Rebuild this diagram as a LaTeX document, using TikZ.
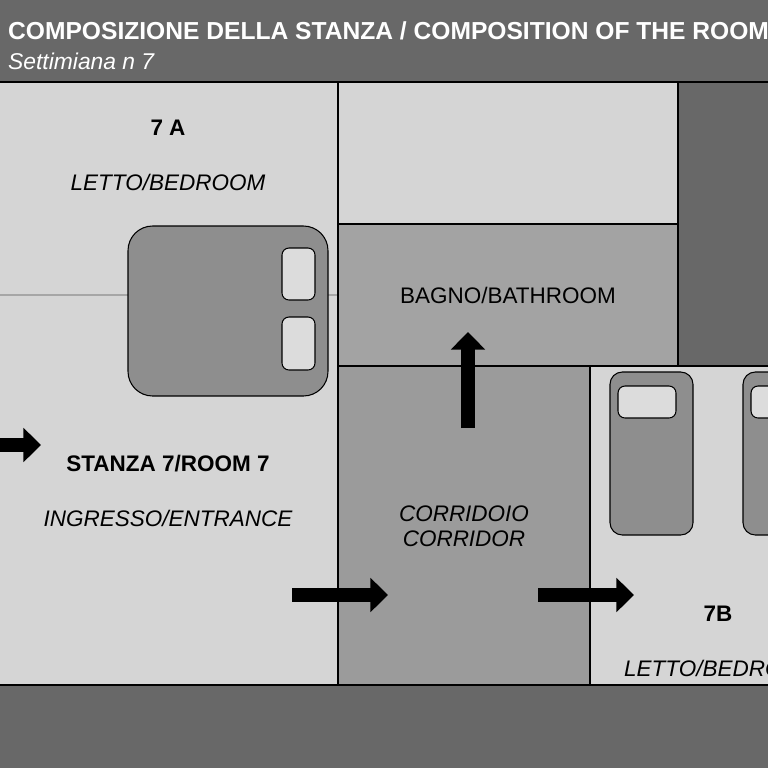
\documentclass[tikz,border=0pt]{standalone}
\usepackage{fontspec}
\setmainfont{Liberation Sans}
\usetikzlibrary{arrows.meta}
\definecolor{darkband}{HTML}{686868}
\definecolor{lightroom}{HTML}{D5D5D5}
\definecolor{midroom}{HTML}{A3A3A3}
\definecolor{bedfill}{HTML}{8E8E8E}
\definecolor{pillowfill}{HTML}{DCDCDC}
\begin{document}
\begin{tikzpicture}
[x=0.02cm,y=-0.02cm,
  roomDecorate/.style={draw=black,line width=0.6pt},%
  bedDecorate/.style={draw=black,fill=bedfill,rounded corners=14pt,line width=0.6pt},%
  pillowDecorate/.style={draw=black,fill=pillowfill,rounded corners=4pt,line width=0.6pt},%
  arrowDecorate/.style={line width=8.5pt,-{Triangle[width=19pt,length=10pt]}},%
  labelDecorate/.style={font=\fontsize{12.8}{14.5}\selectfont\itshape},%
  titleDecorate/.style={font=\fontsize{12.8}{14.5}\selectfont\bfseries}]
\useasboundingbox (0,0) rectangle (768,768);
\clip (0,0) rectangle (768,768);
%% bands
\fill[darkband] (0,0) rectangle (768,82);
\fill[darkband] (0,685) rectangle (768,768);
\node[anchor=west,text=white,font=\fontsize{14}{16}\selectfont\bfseries] (head) at (2,31)
  {COMPOSIZIONE DELLA STANZA / COMPOSITION OF THE ROOM};
\node[anchor=west,text=white,font=\fontsize{13}{15}\selectfont\itshape] (sub) at (2,61) {Settimiana n 7};
%% rooms
\filldraw[roomDecorate,fill=lightroom] (-5,82) rectangle (338,685);
\draw[gray!70,line width=0.6pt] (0,295) -- (338,295);
\filldraw[roomDecorate,fill=lightroom] (338,82) rectangle (678,224);
\filldraw[roomDecorate,fill=midroom] (338,224) rectangle (678,366);
\filldraw[roomDecorate,fill=darkband] (678,82) rectangle (775,366);
\filldraw[roomDecorate,fill=midroom!95!black] (338,366) rectangle (590,685);
\filldraw[roomDecorate,fill=lightroom] (590,366) rectangle (775,685);
%% beds
\filldraw[bedDecorate] (128,226) rectangle (328,396);
\filldraw[pillowDecorate] (282,248) rectangle (315,300);
\filldraw[pillowDecorate] (282,317) rectangle (315,370);
\foreach \bx in {610,743}
{
  \filldraw[bedDecorate,rounded corners=7pt] (\bx,372) rectangle ++(83,163);
  \filldraw[pillowDecorate] (\bx+8,386) rectangle ++(58,32);
}
%% arrows
\coordinate (inA) at (-2,445);  \coordinate (inB) at (41,445);
\coordinate (coA) at (292,595); \coordinate (coB) at (388,595);
\coordinate (bdA) at (538,595); \coordinate (bdB) at (634,595);
\coordinate (baA) at (468,428); \coordinate (baB) at (468,332);
\draw[arrowDecorate] (inA) -- (inB);
\draw[arrowDecorate] (coA) -- (coB);
\draw[arrowDecorate] (bdA) -- (bdB);
\draw[arrowDecorate] (baA) -- (baB);
%% labels
\node[titleDecorate] (sevenA) at (168,128) {7 A};
\node[labelDecorate] (bedA) at (168,182) {LETTO/BEDROOM};
\node[titleDecorate] (room) at (168,464) {STANZA 7/ROOM 7};
\node[labelDecorate] (entrance) at (168,518) {INGRESSO/ENTRANCE};
\node[font=\fontsize{12.8}{14.5}\selectfont] (bath) at (508,295) {BAGNO/BATHROOM};
\node[labelDecorate,align=center] (corr) at (464,526) {CORRIDOIO\\CORRIDOR};
\node[titleDecorate] (sevenB) at (718,614) {7B};
\node[labelDecorate,anchor=west] (bedB) at (618,668) {LETTO/BEDROOM};
\end{tikzpicture}
\end{document}
